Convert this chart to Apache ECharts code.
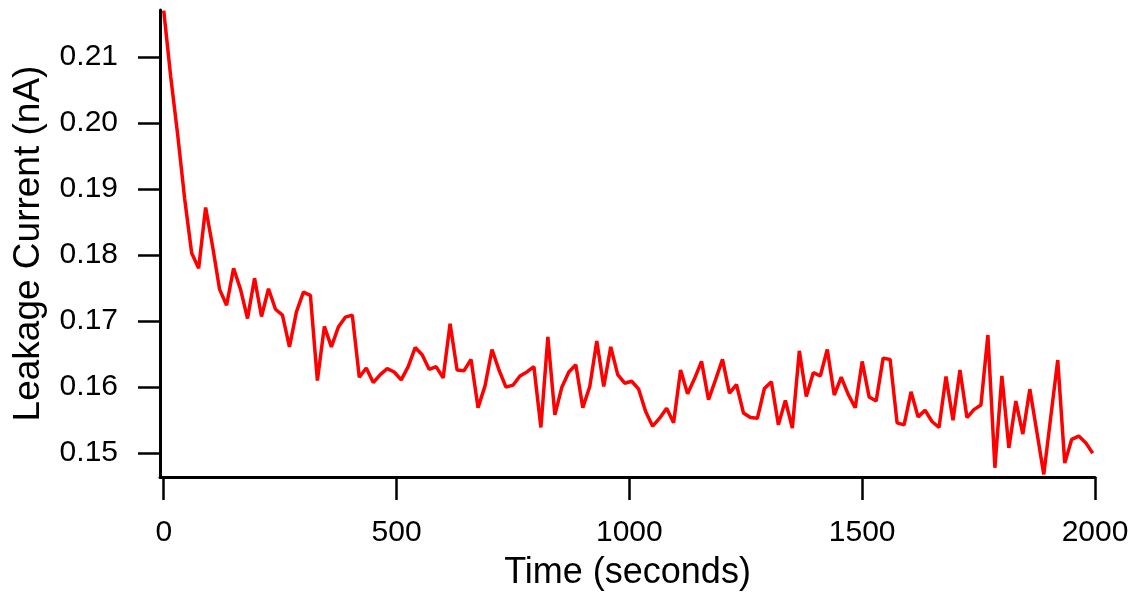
<!DOCTYPE html>
<html>
<head>
<meta charset="utf-8">
<title>Leakage Current</title>
<script src="https://cdn.jsdelivr.net/npm/echarts@6/dist/echarts.min.js"></script>
<style>
  html, body { margin: 0; padding: 0; background: #fff; }
  #main-chart { width: 1139px; height: 596px; }
</style>
</head>
<body>
<div id="main-chart"></div>
<script>
// 时间 (s)
const times = [
  0, 15, 30, 45, 60, 75, 90, 105, 120, 135, 150, 165, 180, 195, 210, 225, 240, 255, 270, 285,
  300, 315, 330, 345, 360, 375, 390, 405, 420, 435, 450, 465, 480, 495, 510, 525, 540, 555, 570, 585,
  600, 615, 630, 645, 660, 675, 690, 705, 720, 735, 750, 765, 780, 795, 810, 825, 840, 855, 870, 885,
  900, 915, 930, 945, 960, 975, 990, 1005, 1020, 1035, 1050, 1065, 1080, 1095, 1110, 1125, 1140, 1155, 1170, 1185,
  1200, 1215, 1230, 1245, 1260, 1275, 1290, 1305, 1320, 1335, 1350, 1365, 1380, 1395, 1410, 1425, 1440, 1455, 1470, 1485,
  1500, 1515, 1530, 1545, 1560, 1575, 1590, 1605, 1620, 1635, 1650, 1665, 1680, 1695, 1710, 1725, 1740, 1755, 1770, 1785,
  1800, 1815, 1830, 1845, 1860, 1875, 1890, 1905, 1920, 1935, 1950, 1965, 1980, 1995
];

// 漏电流 (nA)
const leakage = [
  0.2170, 0.2070, 0.1982, 0.1885, 0.1803, 0.1780, 0.1872, 0.1813, 0.1748, 0.1724,
  0.1780, 0.1748, 0.1704, 0.1765, 0.1707, 0.1749, 0.1718, 0.1709, 0.1661, 0.1714,
  0.1744, 0.1739, 0.1610, 0.1692, 0.1661, 0.1691, 0.1706, 0.1709, 0.1615, 0.1629,
  0.1607, 0.1619, 0.1628, 0.1623, 0.1611, 0.1631, 0.1660, 0.1649, 0.1627, 0.1631,
  0.1614, 0.1696, 0.1626, 0.1625, 0.1642, 0.1569, 0.1602, 0.1657, 0.1626, 0.1600,
  0.1603, 0.1617, 0.1623, 0.1631, 0.1539, 0.1676, 0.1558, 0.1600, 0.1623, 0.1634,
  0.1569, 0.1601, 0.1670, 0.1601, 0.1661, 0.1619, 0.1606, 0.1609, 0.1597, 0.1563,
  0.1541, 0.1553, 0.1568, 0.1546, 0.1626, 0.1590, 0.1613, 0.1639, 0.1581, 0.1611,
  0.1642, 0.1591, 0.1604, 0.1561, 0.1554, 0.1553, 0.1598, 0.1608, 0.1543, 0.1580,
  0.1538, 0.1655, 0.1586, 0.1622, 0.1617, 0.1657, 0.1588, 0.1615, 0.1589, 0.1569,
  0.1639, 0.1585, 0.1579, 0.1644, 0.1642, 0.1546, 0.1543, 0.1593, 0.1555, 0.1565,
  0.1548, 0.1539, 0.1616, 0.1550, 0.1626, 0.1554, 0.1566, 0.1573, 0.1679, 0.1478,
  0.1617, 0.1508, 0.1579, 0.1529, 0.1597, 0.1533, 0.1468, 0.1555, 0.1641, 0.1485,
  0.1521, 0.1526, 0.1516, 0.1500
];

// 刻度
const xTicks = [0, 500, 1000, 1500, 2000];
const yTicks = [0.15, 0.16, 0.17, 0.18, 0.19, 0.20, 0.21];

const FONT = 'Liberation Sans';

const chart = echarts.init(document.getElementById('main-chart'));

chart.setOption({
  animation: false,
  backgroundColor: '#fff',
  grid: { left: 160, right: 44, top: 10, bottom: 119 },
  xAxis: {
    type: 'value',
    min: -8,
    max: 2000,
    name: 'Time (seconds)',
    nameLocation: 'middle',
    nameGap: 78,
    nameTextStyle: { fontFamily: FONT, fontSize: 36, color: '#000' },
    axisLine: { onZero: false, lineStyle: { color: '#000', width: 3 } },
    axisTick: { customValues: xTicks, length: 23, lineStyle: { color: '#000', width: 2.5 } },
    axisLabel: {
      customValues: xTicks,
      margin: 41,
      fontFamily: FONT, fontSize: 30, color: '#000',
      formatter: v => String(v)
    },
    splitLine: { show: false }
  },
  yAxis: {
    type: 'value',
    min: 0.1464,
    max: 0.2171,
    name: 'Leakage Current (nA)',
    nameLocation: 'middle',
    nameGap: 113,
    nameTextStyle: { fontFamily: FONT, fontSize: 37, color: '#000' },
    axisLine: { show: true, onZero: false, lineStyle: { color: '#000', width: 3 } },
    axisTick: { show: true, customValues: yTicks, length: 22, lineStyle: { color: '#000', width: 2.5 } },
    axisLabel: {
      customValues: yTicks,
      margin: 42,
      fontFamily: FONT, fontSize: 30, color: '#000',
      formatter: v => v.toFixed(2)
    },
    splitLine: { show: false }
  },
  series: [{
    type: 'line',
    data: times.map((t, i) => [t, leakage[i]]),
    showSymbol: false,
    lineStyle: { color: '#ff0000', width: 3.5 },
    itemStyle: { color: '#ff0000' }
  }]
});
</script>
</body>
</html>
